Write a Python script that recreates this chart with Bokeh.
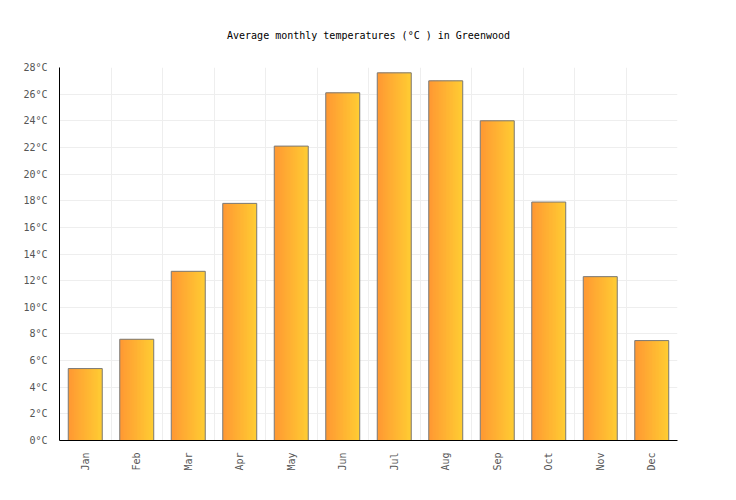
import numpy as np
from bokeh.plotting import figure
from bokeh.models import FixedTicker, PrintfTickFormatter, Range1d
from bokeh.embed import file_html
from bokeh.resources import INLINE

months = ["Jan", "Feb", "Mar", "Apr", "May", "Jun",
          "Jul", "Aug", "Sep", "Oct", "Nov", "Dec"]
temps = [5.4, 7.6, 12.7, 17.8, 22.1, 26.1, 27.6, 27.0, 24.0, 17.9, 12.3, 7.5]
y_ticks = list(range(0, 30, 2))

FONT = "DejaVu Sans Mono"

p = figure(
    width=736, height=500,
    title="Average monthly temperatures (°C ) in Greenwood",
    x_range=Range1d(0, len(months)), y_range=Range1d(0, 28),
    output_backend="svg", toolbar_location=None, tools="",
    min_border_left=59, min_border_right=59, min_border_bottom=60, min_border_top=67,
)
p.outline_line_color = None
p.background_fill_color = "white"

p.title.align = "center"
p.title.text_font = FONT
p.title.text_font_size = "10px"
p.title.text_font_style = "normal"
p.title.text_color = "#000000"
p.title.standoff = 53

xs = np.arange(len(months)) + 0.5

# gradient fill: thin overlapping strips from orange to yellow
bar_w = 0.66
n_strips = 24
strip_w = bar_w / n_strips
c0 = np.array([255, 153, 51])
c1 = np.array([255, 204, 51])
for i in range(n_strips):
    t = i / (n_strips - 1)
    r, g, b = (c0 + (c1 - c0) * t).round().astype(int)
    left = -bar_w / 2 + i * strip_w
    right = min(left + strip_w * 2.5, bar_w / 2)
    off = (left + right) / 2
    p.vbar(x=xs + off, top=temps, bottom=0, width=right - left,
           fill_color=f"#{r:02x}{g:02x}{b:02x}", line_color=None)

p.vbar(x=xs, top=temps, bottom=0, width=bar_w, fill_color=None,
       line_color="#7a7a7a", line_width=1)

p.xaxis.ticker = FixedTicker(ticks=list(xs))
p.xaxis.major_label_overrides = {float(x): m for x, m in zip(xs, months)}
p.xaxis.major_label_orientation = np.pi / 2
p.yaxis.ticker = FixedTicker(ticks=y_ticks)
p.yaxis.formatter = PrintfTickFormatter(format="%d°C")

for ax in (p.xaxis, p.yaxis):
    ax.major_label_text_font = FONT
    ax.major_label_text_font_size = "10px"
    ax.major_label_text_color = "#555555"
    ax.axis_line_color = "#000000"
    ax.axis_line_width = 1
    ax.major_tick_line_color = None
    ax.minor_tick_line_color = None
    ax.major_label_standoff = 6

p.xgrid.ticker = FixedTicker(ticks=list(range(1, len(months) + 1)))
p.xgrid.grid_line_color = "#eeeeee"
p.ygrid.grid_line_color = "#eeeeee"

open("out.html", "w").write(file_html(p, INLINE))
